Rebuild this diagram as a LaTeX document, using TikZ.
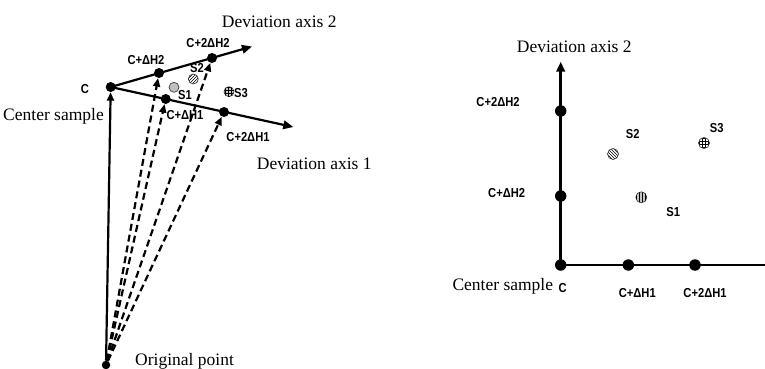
\documentclass[tikz,border=0pt]{standalone}
\usepackage{fontspec}
\setmainfont{Liberation Serif}
\newfontfamily\lblsans[FakeStretch=0.86]{Liberation Sans}
\usetikzlibrary{arrows.meta,patterns}

\begin{document}
\begin{tikzpicture}[x=1pt,y=-1pt,
  dot/.style={circle,fill=black,inner sep=0pt,minimum size=10pt},
  bigdot/.style={dot,minimum size=11.5pt},
  lbl/.style={font=\lblsans\bfseries\fontsize{13}{14}\selectfont,inner sep=0pt},
  captext/.style={font=\fontsize{17.5}{19}\selectfont,inner sep=0pt},
  axis/.style={line width=2.2pt,-{Triangle[length=10pt,width=8.5pt]}},
  ray/.style={line width=2.2pt,dash pattern=on 7pt off 4pt,-{Triangle[length=8.5pt,width=7pt]}},
  sample/.style={circle,draw=black!75,line width=0.7pt,inner sep=0pt,minimum size=10pt},
]
\useasboundingbox (0,0) rectangle (765,369);

% ---------- left: axes in the original space ----------
\node[dot,minimum size=8.5pt] (O) at (106,365) {};
\node[dot] (C) at (110.7,87) {};
\node[dot] (h2a) at (159,73) {};
\node[dot] (h2b) at (212,58) {};
\node[dot] (h1a) at (165.7,99) {};
\node[dot] (h1b) at (224,112) {};
\coordinate (A2) at (252,46.5);
\coordinate (A1) at (293.3,127);

\draw[axis] (C.center) -- (A2);
\draw[axis] (C.center) -- (A1);
\draw[axis,-{Triangle[length=8.5pt,width=7pt]}] (O) -- (C);
\draw[ray] (O) -- (h2a);
\draw[ray] (O) -- (h1a);
\draw[ray] (O) -- (h2b);
\draw[ray] (O) -- (h1b);

\node[sample,fill=gray!50] (s1) at (174,87.3) {};
\node[sample,pattern=north east lines] (s2) at (193.3,79) {};
\node[sample,fill=gray!40,postaction={pattern=grid}] (s3) at (229,91.7) {};

\node[lbl] (lC) at (85,89.5) {C};
\node[lbl] (l2a) at (146,60) {C+ΔH2};
\node[lbl] (l2b) at (208,43) {C+2ΔH2};
\node[lbl] (l1a) at (185,115) {C+ΔH1};
\node[lbl] (l1b) at (248,137) {C+2ΔH1};
\node[lbl] (ls1) at (185,95) {S1};
\node[lbl] (ls2) at (197,68) {S2};
\node[lbl] (ls3) at (241,92.7) {S3};

\node[captext,anchor=base east] (lcs) at (104,120.5) {Center sample};
\node[captext,anchor=base west] (ld2) at (221.7,27.5) {Deviation axis 2};
\node[captext,anchor=base west] (ld1) at (256.7,169) {Deviation axis 1};
\node[captext,anchor=base west] (lop) at (135,365) {Original point};

% ---------- right: the same samples in deviation coordinates ----------
\node[bigdot] (RC) at (560.7,265) {};
\node[bigdot] (r1a) at (628.3,265) {};
\node[bigdot] (r1b) at (695,265) {};
\node[bigdot] (r2a) at (560.7,196) {};
\node[bigdot] (r2b) at (560.7,111) {};
\coordinate (RA2) at (560.7,61.7);
\coordinate (RA1) at (766,265);

\draw[axis,line width=2.5pt] (RC.center) -- (RA2);
\draw[line width=2.5pt] (RC.center) -- (RA1);

\node[sample,minimum size=11pt,fill=gray!45,postaction={pattern=vertical lines}] (rs1) at (641.3,197.3) {};
\node[sample,minimum size=11pt,pattern=north west lines] (rs2) at (613,154) {};
\node[sample,minimum size=11pt,pattern=grid] (rs3) at (704,143) {};

\node[lbl] (rlC) at (562.7,288) {C};
\node[lbl] (rl2a) at (506.7,193.3) {C+ΔH2};
\node[lbl] (rl2b) at (498,102) {C+2ΔH2};
\node[lbl] (rl1a) at (637.3,292.7) {C+ΔH1};
\node[lbl] (rl1b) at (705,292.7) {C+2ΔH1};
\node[lbl] (rls1) at (673.3,212.3) {S1};
\node[lbl] (rls2) at (632.7,134.5) {S2};
\node[lbl] (rls3) at (716.7,128.3) {S3};

\node[captext,anchor=base east] (rcs) at (553.3,290) {Center sample};
\node[captext,anchor=base west] (rd2) at (516.7,52.5) {Deviation axis 2};
\end{tikzpicture}
\end{document}
